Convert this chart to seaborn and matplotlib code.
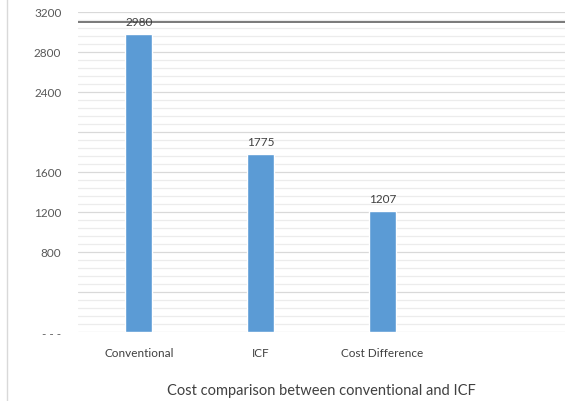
import numpy as np
import pandas as pd
import matplotlib
matplotlib.use("Agg")
import matplotlib.pyplot as plt
from matplotlib.lines import Line2D
from matplotlib.ticker import MultipleLocator
import seaborn as sns

# Données
categories = ["Conventional", "ICF", "Cost Difference", ""]
costs = [2980, 1775, 1207, np.nan]
ytick_vals = [0, 400, 800, 1200, 1600, 2000, 2400, 2800, 3200]
ytick_labels = ["- - -", "", "800", "1200", "1600", "", "2400", "2800", "3200"]
ref_line = 3100
xlabel = "Cost comparison between conventional and ICF"

sns.set_theme(style="white")
plt.rcParams["font.family"] = ["Lato", "DejaVu Sans"]

data = pd.DataFrame({"cat": categories, "cost": costs})

fig = plt.figure(figsize=(5.76, 4.02), dpi=100)
ax = fig.add_axes([0.1354, 0.1716, 0.8456, 0.7968])

# Grille principale et secondaire
ax.set_axisbelow(True)
ax.yaxis.set_minor_locator(MultipleLocator(80))
ax.grid(axis="y", which="major", color="#d9d9d9", linewidth=0.9)
ax.grid(axis="y", which="minor", color="#ececec", linewidth=0.9)

sns.barplot(data=data, x="cat", y="cost", color="#5b9bd5", width=0.22,
            saturation=1, ax=ax)

# Étiquettes de valeurs
for i, v in enumerate(costs):
    if not np.isnan(v):
        ax.text(i, v + 70, f"{int(v)}", ha="center", va="bottom",
                fontsize=8.5, color="#404040")

ax.axhline(ref_line, color="#555555", linewidth=1.1)

ax.set_ylim(0, 3200)
ax.set_xlim(-0.5, 3.5)
ax.set_yticks(ytick_vals)
ax.set_yticklabels(ytick_labels)
ax.tick_params(axis="y", length=0, pad=12, labelsize=8.5, labelcolor="#595959")
ax.tick_params(axis="x", length=0, pad=11, labelsize=8.5, labelcolor="#404040")
ax.set_ylabel("")
ax.set_xlabel(xlabel, fontsize=10.5, color="#404040", labelpad=18)
for s in ax.spines.values():
    s.set_visible(False)

# Bordure gauche du cadre
fig.add_artist(Line2D([0.013, 0.013], [0.0, 1.0], color="#d9d9d9", linewidth=1))

fig.savefig("out.png", dpi=100)
